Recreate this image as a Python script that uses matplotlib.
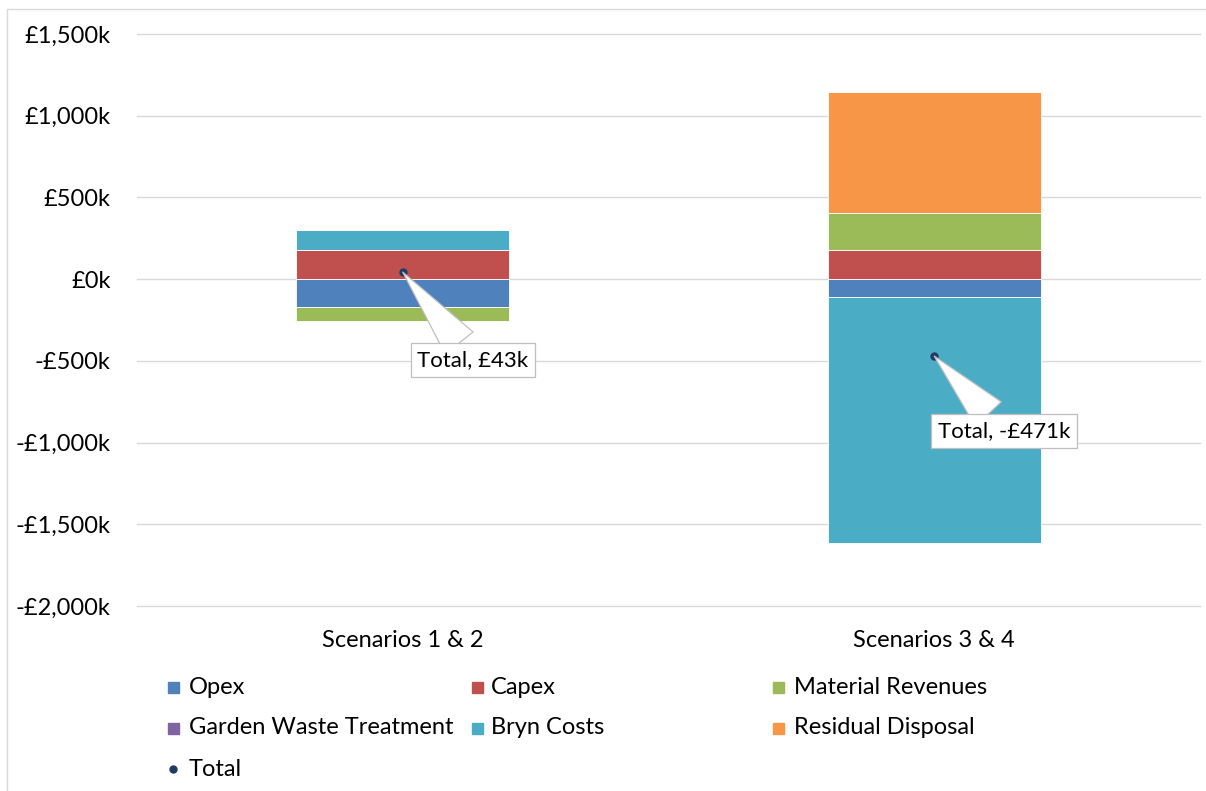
import matplotlib.pyplot as plt
from matplotlib.patches import Rectangle
from matplotlib.lines import Line2D
import numpy as np

plt.rcParams['font.family'] = ['Lato', 'DejaVu Sans']

# data (in £k)
scenarios = ["Scenarios 1 & 2", "Scenarios 3 & 4"]
series_names = ["Opex", "Capex", "Material Revenues", "Garden Waste Treatment", "Bryn Costs", "Residual Disposal"]
series_colors = ["#4F81BD", "#C0504D", "#9BBB59", "#8064A2", "#4BACC6", "#F79646"]
opex = [-170, -108]
capex = [180, 180]
material_revenues = [-89, 224]
garden_waste = [0, 0]
bryn_costs = [122, -1506]
residual_disposal = [0, 739]
totals = [43, -471]
total_color = "#1F3B63"

series_values = [opex, capex, material_revenues, garden_waste, bryn_costs, residual_disposal]

W, H = 1206, 791
fig = plt.figure(figsize=(W / 100, H / 100), dpi=100)
ax = fig.add_axes([137 / W, 1 - 606 / H, (1200 - 137) / W, (606 - 34) / H])

x = np.arange(len(scenarios))
pos_bottom = np.zeros(len(scenarios))
neg_bottom = np.zeros(len(scenarios))
for name, vals, col in zip(series_names, series_values, series_colors):
    vals = np.array(vals, dtype=float)
    bottoms = np.where(vals >= 0, pos_bottom, neg_bottom)
    ax.bar(x, vals, 0.4, bottom=bottoms, color=col, edgecolor="white", linewidth=0.6, zorder=2)
    pos_bottom += np.clip(vals, 0, None)
    neg_bottom += np.clip(vals, None, 0)

ax.plot(x, totals, "o", color=total_color, markersize=5, zorder=4)

# callout labels
offsets = [(70, -88), (70, -75)]
for xi, t, off in zip(x, totals, offsets):
    lab = "Total, £%dk" % t if t >= 0 else "Total, -£%dk" % abs(t)
    ax.annotate(lab, xy=(xi, t), xytext=off, textcoords="offset pixels",
                ha="center", va="center", fontsize=16, zorder=5,
                bbox=dict(boxstyle="square,pad=0.3", fc="white", ec="#BFBFBF", lw=0.9),
                arrowprops=dict(arrowstyle="wedge,tail_width=1.6,shrink_factor=0.5",
                                fc="white", ec="#BFBFBF", lw=0.9, shrinkA=0, shrinkB=0))

ax.set_xlim(-0.5, 1.5)
ax.set_ylim(-2000, 1500)
ax.set_yticks(np.arange(-2000, 1501, 500))
ax.set_yticklabels(["£%sk" % format(v, ",") if v >= 0 else "-£%sk" % format(-v, ",")
                    for v in range(-2000, 1501, 500)])
ax.set_xticks(x)
ax.set_xticklabels(scenarios)
ax.tick_params(axis="y", length=0, pad=19, labelsize=17)
ax.tick_params(axis="x", length=0, pad=17, labelsize=17)
ax.grid(axis="y", color="#D9D9D9", linewidth=1, zorder=0)
ax.set_axisbelow(True)
for gl in ax.get_ygridlines():
    gl.set_clip_on(False)
for s in ax.spines.values():
    s.set_visible(False)

# legend, laid out like Excel (equal column widths, row-wise)
sq_x = [173, 477, 778]
txt_x = [189, 491, 794]
row_y = [687, 728, 769]
for i, (name, col) in enumerate(zip(series_names, series_colors)):
    cy = row_y[i // 3]
    fig.patches.append(Rectangle(((sq_x[i % 3] - 5.5) / W, 1 - (cy + 5.5) / H), 11 / W, 11 / H,
                                 transform=fig.transFigure, color=col))
    fig.text(txt_x[i % 3] / W, 1 - cy / H, name, fontsize=17, va="center", ha="left")
fig.lines.append(Line2D([sq_x[0] / W], [1 - row_y[2] / H], marker="o", color=total_color,
                        markersize=5, transform=fig.transFigure))
fig.text(txt_x[0] / W, 1 - row_y[2] / H, "Total", fontsize=17, va="center", ha="left")

# chart border
fig.patches.append(Rectangle((7 / W, -0.01), 1.01 - 7 / W, 1 - 9 / H + 0.01,
                             transform=fig.transFigure, fill=False, ec="#D9D9D9", lw=1))

fig.savefig("out.png", dpi=100)
